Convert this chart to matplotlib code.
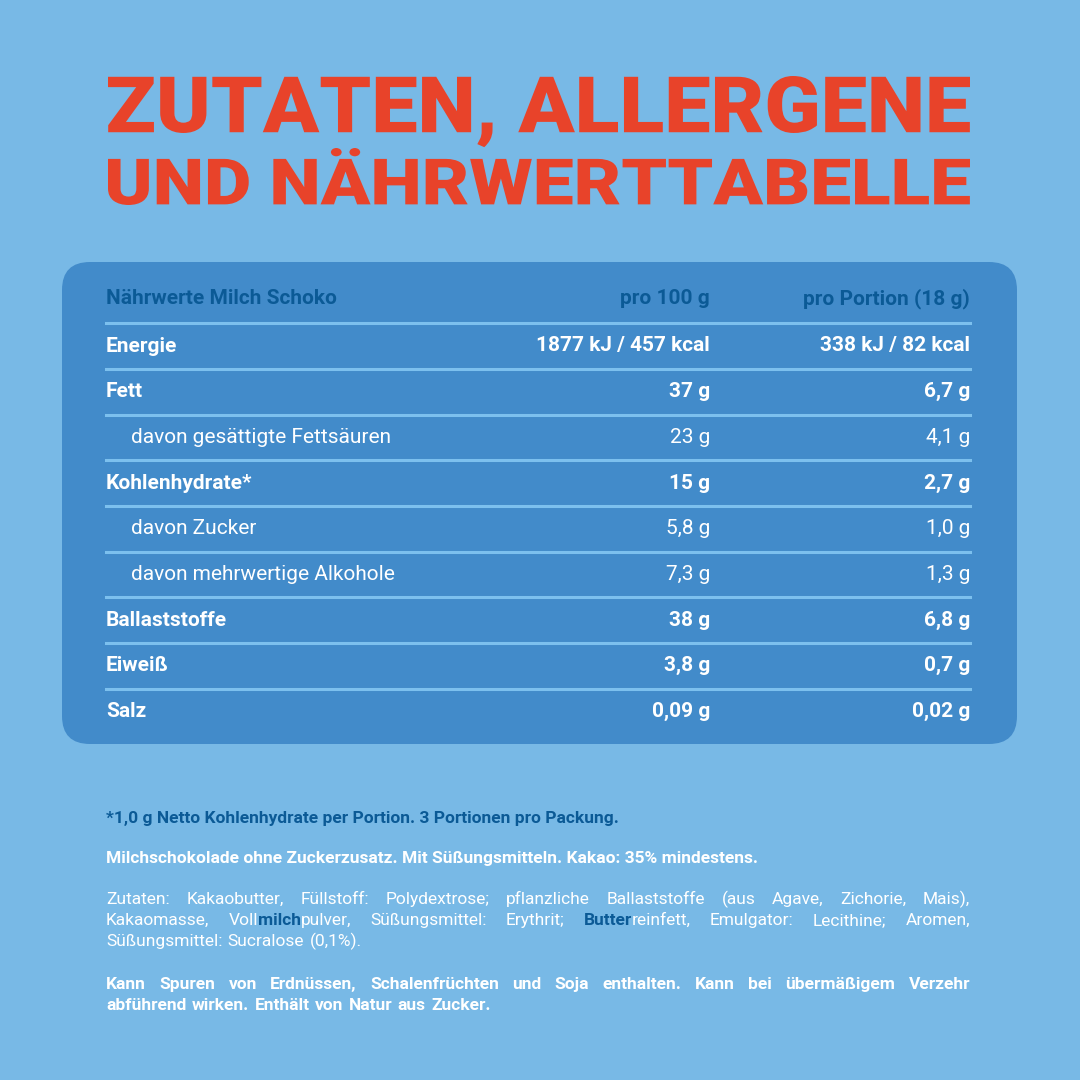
import matplotlib
matplotlib.use("Agg")
import matplotlib.pyplot as plt
from matplotlib.patches import FancyBboxPatch, PathPatch
from matplotlib.textpath import TextPath
from matplotlib.font_manager import FontProperties
from matplotlib.transforms import Affine2D

BG = "#78b9e6"
PANEL = "#428bca"
DARK = "#0b5a96"
RED = "#e8432a"
LINE = "#7cc0ee"
FONT = ["Roboto", "DejaVu Sans"]

title_lines = ["ZUTATEN, ALLERGENE", "UND NÄHRWERTTABELLE"]
header = ["Nährwerte Milch Schoko", "pro 100 g", "pro Portion (18 g)"]
labels = ["Energie", "Fett", "davon gesättigte Fettsäuren", "Kohlenhydrate*",
          "davon Zucker", "davon mehrwertige Alkohole", "Ballaststoffe", "Eiweiß", "Salz"]
per100 = ["1877 kJ / 457 kcal", "37 g", "23 g", "15 g", "5,8 g", "7,3 g", "38 g", "3,8 g", "0,09 g"]
perPortion = ["338 kJ / 82 kcal", "6,7 g", "4,1 g", "2,7 g", "1,0 g", "1,3 g", "6,8 g", "0,7 g", "0,02 g"]
is_sub = [False, False, True, False, True, True, False, False, False]

footnote = "*1,0 g Netto Kohlenhydrate per Portion. 3 Portionen pro Packung."
claim = "Milchschokolade ohne Zuckerzusatz. Mit Süßungsmitteln. Kakao: 35% mindestens."
# [..] marks the allergen parts printed bold and dark
ingredients = [
    "Zutaten: Kakaobutter, Füllstoff: Polydextrose; pflanzliche Ballaststoffe (aus Agave, Zichorie, Mais),",
    "Kakaomasse, Voll[milch]pulver, Süßungsmittel: Erythrit; [Butter]reinfett, Emulgator: Lecithine; Aromen,",
    "Süßungsmittel: Sucralose (0,1%).",
]
allergy = [
    "Kann Spuren von Erdnüssen, Schalenfrüchten und Soja enthalten. Kann bei übermäßigem Verzehr",
    "abführend wirken. Enthält von Natur aus Zucker.",
]

fig = plt.figure(figsize=(10.8, 10.8), dpi=100)
fig.patch.set_facecolor(BG)
ax = fig.add_axes([0, 0, 1, 1])
ax.set_xlim(0, 1080)
ax.set_ylim(1080, 0)
ax.axis("off")

# title as condensed text paths
tprop = FontProperties(family="Roboto", weight="black")
for t, ytop in zip(title_lines, [76, 148]):
    tp = TextPath((0, 0), t.replace(",", ""), size=100, prop=tprop)
    ext = tp.get_extents()
    full = TextPath((0, 0), t, size=100, prop=tprop)
    fext = full.get_extents()
    sx = 862 / fext.width
    sy = 57 / ext.height
    tr = Affine2D().translate(-fext.x0, -ext.y1).scale(sx, -sy).translate(108, ytop)
    ax.add_patch(PathPatch(tr.transform_path(full), fc=RED, ec="none"))

ax.add_patch(FancyBboxPatch((62, 262), 955, 482, boxstyle="round,pad=0,rounding_size=28",
                            fc=PANEL, ec="none"))

x_lab, x_c1, x_c2 = 106, 710, 970
for x, t, ha in zip([x_lab, x_c1, x_c2], header, ["left", "right", "right"]):
    ax.text(x, 299, t, color=DARK, fontsize=15, fontweight="bold", family=FONT, va="center", ha=ha)

row_h = 45.7
for i, lab in enumerate(labels):
    y = 346 + i * row_h
    ax.plot([x_lab, x_c2], [y - row_h / 2, y - row_h / 2], color=LINE, lw=2.2)
    w = "normal" if is_sub[i] else "bold"
    ax.text(x_lab + (25 if is_sub[i] else 0), y, lab, color="white", fontsize=15,
            fontweight=w, family=FONT, va="center")
    ax.text(x_c1, y, per100[i], color="white", fontsize=15, fontweight=w, family=FONT,
            va="center", ha="right")
    ax.text(x_c2, y, perPortion[i], color="white", fontsize=15, fontweight=w, family=FONT,
            va="center", ha="right")

ax.text(x_lab, 823, footnote, color=DARK, fontsize=12.5, fontweight="bold", family=FONT, va="baseline")
ax.text(x_lab, 863, claim, color="white", fontsize=12.5, fontweight="bold", family=FONT, va="baseline")

fig.canvas.draw()
rend = fig.canvas.get_renderer()
FS = 12.5


def width_of(t, weight):
    fp = FontProperties(family=FONT, weight=weight, size=FS)
    w, h, d = rend.get_text_width_height_descent(t, fp, ismath=False)
    return w * 1080 / fig.bbox.width


def justified(line, y, base_weight, justify=True):
    pieces = []
    for wd in line.split(" "):
        parts = []
        buf = wd
        while "[" in buf:
            a, rest = buf.split("[", 1)
            b, buf = rest.split("]", 1)
            if a:
                parts.append((a, False))
            parts.append((b, True))
        if buf:
            parts.append((buf, False))
        pieces.append(parts)
    widths = [sum(width_of(p, "bold" if d else base_weight) for p, d in w) for w in pieces]
    if justify and len(pieces) > 1:
        gap = (970 - x_lab - sum(widths)) / (len(pieces) - 1)
    else:
        gap = width_of(" ", base_weight) + 1
    x = x_lab
    for w, wd in zip(pieces, widths):
        xx = x
        for p, d in w:
            wt = "bold" if d else base_weight
            ax.text(xx, y, p, color=DARK if d else "white", fontsize=FS,
                    fontweight=wt, family=FONT, va="baseline")
            xx += width_of(p, wt)
        x += wd + gap


for i, line in enumerate(ingredients):
    justified(line, 904 + i * 21, "normal", justify=i < len(ingredients) - 1)
for i, line in enumerate(allergy):
    justified(line, 989 + i * 21, "bold", justify=i < len(allergy) - 1)

fig.savefig("out.png", dpi=100, facecolor=BG)
